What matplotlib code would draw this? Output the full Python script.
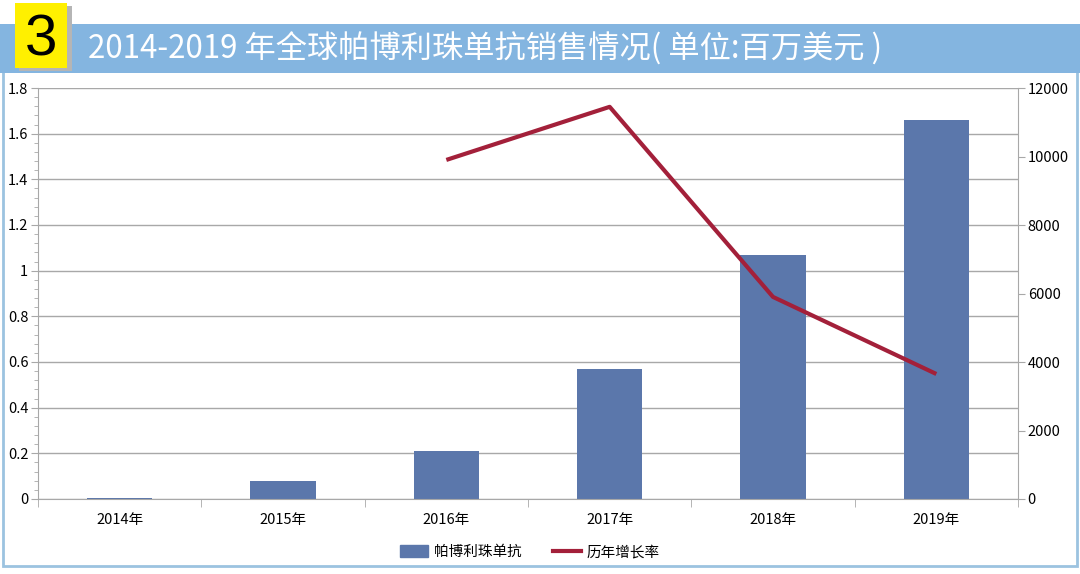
import numpy as np
import matplotlib
matplotlib.use("Agg")
import matplotlib.pyplot as plt
from matplotlib.patches import Rectangle
from matplotlib.lines import Line2D
from matplotlib.ticker import MultipleLocator, FixedLocator

plt.rcParams['font.family'] = ['Noto Sans CJK SC', 'DejaVu Sans']

years = ["2014年", "2015年", "2016年", "2017年", "2018年", "2019年"]
sales = [0.005, 0.08, 0.21, 0.57, 1.07, 1.66]
growth = [np.nan, np.nan, 9900, 11450, 5900, 3650]
title = "2014-2019 年全球帕博利珠单抗销售情况( 单位:百万美元 )"
badge = "3"
bar_label = "帕博利珠单抗"
line_label = "历年增长率"

bar_color = "#5B77AB"
line_color = "#A3203A"
banner_color = "#84B5E0"
frame_color = "#9CC3E0"
grid_color = "#A8A8A8"

fig = plt.figure(figsize=(10.8, 5.74), dpi=100)

# outer frame
fig.patches.append(Rectangle((3/1080, 1-566/574), 1074/1080, (566-70)/574,
                             transform=fig.transFigure, fill=False,
                             edgecolor=frame_color, linewidth=2, zorder=0))
# banner
fig.patches.append(Rectangle((0, 1-73/574), 1, 49/574, transform=fig.transFigure,
                             facecolor=banner_color, edgecolor='none', zorder=1))
# badge shadow + badge
fig.patches.append(Rectangle((19/1080, 1-71/574), 53/1080, 65/574, transform=fig.transFigure,
                             facecolor="#B5B5B5", edgecolor='none', zorder=2))
fig.patches.append(Rectangle((15/1080, 1-68/574), 52/1080, 65/574, transform=fig.transFigure,
                             facecolor="#FFF000", edgecolor='none', zorder=3))
fig.text(41/1080, 1-40/574, badge, ha='center', va='center', fontsize=42,
         color='black', zorder=4, family=['Liberation Sans'])
fig.text(88/1080, 1-49/574, title, ha='left', va='center', fontsize=22.5,
         color='white', zorder=4)

ax = fig.add_axes([38/1080, 1-499/574, 980/1080, 411/574])
x = np.arange(len(years))
ax.bar(x, sales, width=0.4, color=bar_color, zorder=2, label=bar_label)
ax.set_xlim(-0.5, len(years)-0.5)
ax.set_ylim(0, 1.8)
ax.yaxis.set_major_locator(MultipleLocator(0.2))
ax.yaxis.set_minor_locator(MultipleLocator(0.04))
ax.set_yticks(ax.get_yticks())
ax.set_yticklabels([("%g" % round(v, 1)) for v in ax.get_yticks()])
ax.set_ylim(0, 1.8)
ax.grid(axis='y', color=grid_color, linewidth=1, zorder=0)
ax.set_xticks(x)
ax.set_xticklabels(years)
ax.xaxis.set_minor_locator(FixedLocator(np.arange(-0.5, len(years), 1.0)))
ax.tick_params(axis='x', which='major', length=0, labelsize=10.5, pad=10)
ax.tick_params(axis='x', which='minor', length=6, color=grid_color, direction='out')
ax.tick_params(axis='y', which='major', length=5, color=grid_color, labelsize=10.5, pad=2)
ax.tick_params(axis='y', which='minor', length=3, color=grid_color)
for s in ['top', 'right']:
    ax.spines[s].set_visible(False)
for s in ['left', 'bottom']:
    ax.spines[s].set_color(grid_color)

ax2 = ax.twinx()
ax2.plot(x, growth, color=line_color, linewidth=3, zorder=3, label=line_label,
         solid_capstyle='butt')
ax2.set_ylim(0, 12000)
ax2.yaxis.set_major_locator(MultipleLocator(2000))
ax2.tick_params(axis='y', length=5, color=grid_color, labelsize=10.5, pad=2)
for s in ['top', 'left', 'bottom']:
    ax2.spines[s].set_visible(False)
ax2.spines['right'].set_color(grid_color)

handles = [Rectangle((0, 0), 1, 1, color=bar_color),
           Line2D([0], [0], color=line_color, linewidth=3)]
fig.legend(handles, [bar_label, line_label], loc='center', ncol=2,
           bbox_to_anchor=(530/1080, 1-552/574), frameon=False, fontsize=10.5,
           handlelength=1.9, handleheight=0.8, columnspacing=2.2, handletextpad=0.4)

fig.savefig("out.png", dpi=100)
